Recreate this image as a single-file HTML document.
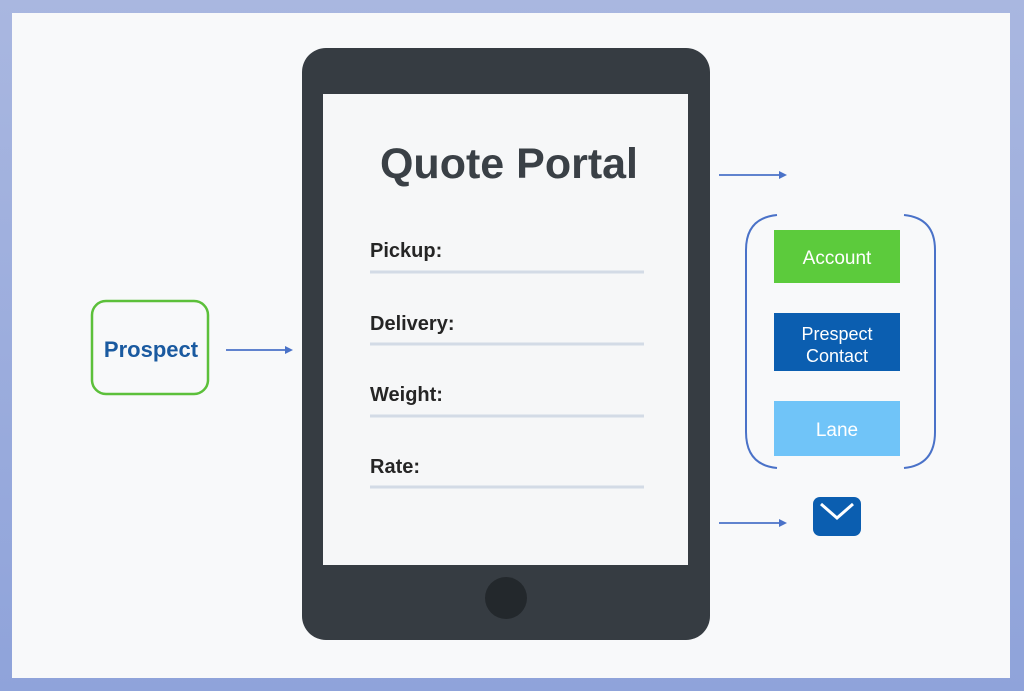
<!DOCTYPE html>
<html><head><meta charset="utf-8"><style>
html,body{margin:0;padding:0;width:1024px;height:691px;overflow:hidden;background:#a9b7e0;}
svg{display:block}
text{font-family:"Liberation Sans",sans-serif}
</style></head><body>
<svg width="1024" height="691" viewBox="0 0 1024 691">
<defs>
<linearGradient id="bg" x1="0" y1="0" x2="0" y2="1"><stop offset="0" stop-color="#a9b7e0"/><stop offset="1" stop-color="#8fa3da"/></linearGradient>
</defs>
<rect width="1024" height="691" fill="url(#bg)"/>
<rect x="12" y="13" width="998" height="665" fill="#f8f9fa"/>
<!-- tablet -->
<rect x="302" y="48" width="408" height="592" rx="24" fill="#363c42"/>
<rect x="323" y="94" width="365" height="471" fill="#f6f7f8"/>
<circle cx="506" cy="598" r="21" fill="#23282c"/>
<text x="509" y="178" text-anchor="middle" font-size="43" font-weight="bold" fill="#3a4046">Quote Portal</text>
<g font-size="20" fill="#3a4046" font-weight="bold">
<text x="370" y="257" fill-opacity="0.85" fill="#000">Pickup:</text>
<text x="370" y="330" fill-opacity="0.85" fill="#000">Delivery:</text>
<text x="370" y="401" fill-opacity="0.85" fill="#000">Weight:</text>
<text x="370" y="473" fill-opacity="0.85" fill="#000">Rate:</text>
</g>
<g stroke="#d3dbe6" stroke-width="3">
<line x1="370" y1="272" x2="644" y2="272"/>
<line x1="370" y1="344" x2="644" y2="344"/>
<line x1="370" y1="416" x2="644" y2="416"/>
<line x1="370" y1="487" x2="644" y2="487"/>
</g>
<!-- prospect -->
<rect x="92" y="301" width="116" height="93" rx="14" fill="#f8f9fa" stroke="#5cc03a" stroke-width="2.5"/>
<text x="151" y="357" text-anchor="middle" font-size="22" font-weight="bold" fill="#1a5aa0">Prospect</text>
<!-- arrows -->
<g stroke="#4a72c8" stroke-width="1.8" fill="#4a72c8">
<line x1="226" y1="350" x2="287" y2="350"/><polygon points="293,350 285,346 285,354" stroke="none"/>
<line x1="719" y1="175" x2="781" y2="175"/><polygon points="787,175 779,171 779,179" stroke="none"/>
<line x1="719" y1="523" x2="781" y2="523"/><polygon points="787,523 779,519 779,527" stroke="none"/>
</g>
<!-- brackets -->
<g fill="none" stroke="#4a72c8" stroke-width="2">
<path d="M777,215 Q746,218 746,250 L746,432 Q746,465 777,468"/>
<path d="M904,215 Q935,218 935,250 L935,432 Q935,465 904,468"/>
</g>
<rect x="774" y="230" width="126" height="53" fill="#5ccb3c"/>
<text x="837" y="264" text-anchor="middle" font-size="19" fill="#fff">Account</text>
<rect x="774" y="313" width="126" height="58" fill="#0b5eb0"/>
<text x="837" y="340" text-anchor="middle" font-size="18" fill="#fff">Prespect</text>
<text x="837" y="362" text-anchor="middle" font-size="18" fill="#fff">Contact</text>
<rect x="774" y="401" width="126" height="55" fill="#70c4f8"/>
<text x="837" y="436" text-anchor="middle" font-size="19" fill="#fff">Lane</text>
<!-- mail -->
<rect x="813" y="497" width="48" height="39" rx="7" fill="#0b5eb0"/>
<polyline points="821,504 837,518 853,504" fill="none" stroke="#fff" stroke-width="3"/>
</svg>
</body></html>
